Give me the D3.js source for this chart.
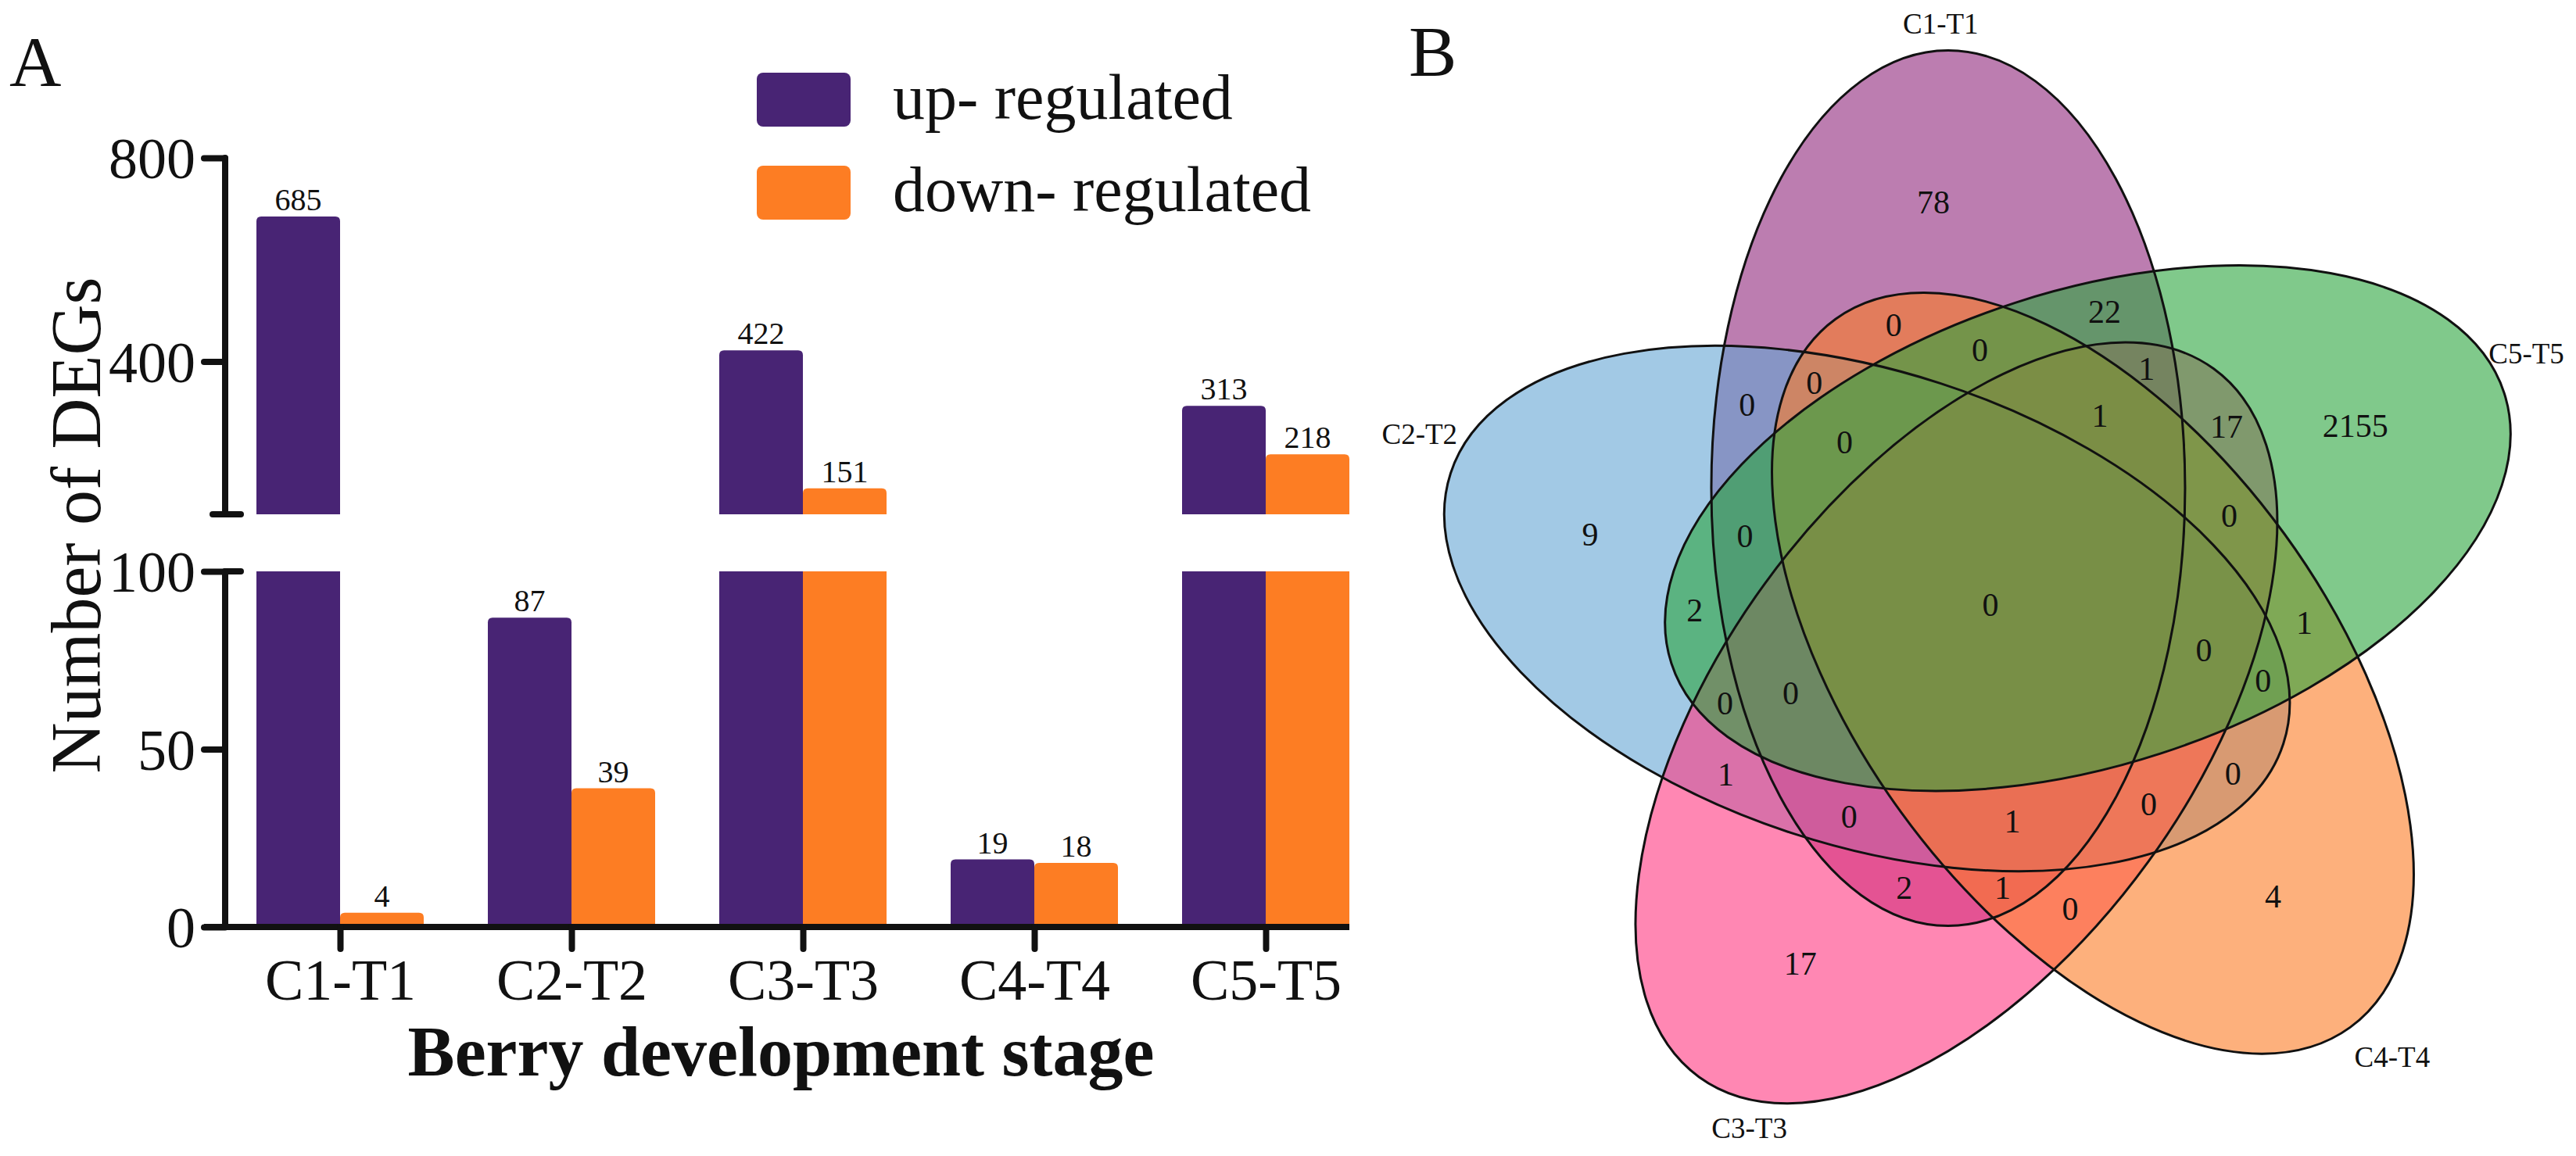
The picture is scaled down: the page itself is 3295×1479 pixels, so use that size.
<!DOCTYPE html>
<html>
<head>
<meta charset="utf-8">
<script src="https://cdn.jsdelivr.net/npm/d3@7"></script>
<style>
  body { margin: 0; background: #fff; }
  text { font-family: "Liberation Serif", "Times New Roman", serif; fill: #111; }
</style>
</head>
<body>
<svg id="svg" width="3295" height="1479"></svg>
<script>
// ---- data: panel A ----
var categories = ["C1-T1", "C2-T2", "C3-T3", "C4-T4", "C5-T5"];
var upRegulated = [685, 87, 422, 19, 313];
var downRegulated = [4, 39, 151, 18, 218];
var seriesNames = ["up- regulated", "down- regulated"];
var lowerTicks = [0, 50, 100];
var upperTicks = [400, 800];

// ---- data: panel B (region = sets it belongs to) ----
var vennSets = ["C1-T1", "C2-T2", "C3-T3", "C4-T4", "C5-T5"];
var vennRegions = ["1", "2", "3", "4", "5",
  "12", "13", "14", "15", "23", "24", "25", "34", "35", "45",
  "123", "124", "125", "134", "135", "145", "234", "235", "245", "345",
  "1234", "1235", "1245", "1345", "2345", "12345"];
var vennCounts = [78, 9, 17, 4, 2155,
  0, 2, 0, 22, 1, 0, 2, 0, 17, 1,
  0, 0, 0, 1, 1, 0, 0, 0, 0, 0,
  1, 0, 0, 1, 0, 0];

var svg = d3.select("svg");
var barColors = ["#482474", "#fd7d23"];

/*
 PANEL A - bar chart with broken y axis
*/
var x = d3.scalePoint().domain(categories).range([435, 1619]);
var yLow = d3.scaleLinear().domain([0, 100]).range([1186, 731]);
var yHigh = d3.scaleLinear().domain([100, 800]).range([658, 202]);
var barW = 107;

// rect with rounded top corners
function barPath(x0, w, yb, yt, r) {
    r = Math.min(r, (yb - yt) / 2);
    return "M" + x0 + "," + yb + "V" + (yt + r) + "Q" + x0 + "," + yt + " " + (x0 + r) + "," + yt +
        "H" + (x0 + w - r) + "Q" + (x0 + w) + "," + yt + " " + (x0 + w) + "," + (yt + r) + "V" + yb + "Z";
}

var bars = svg.append("g").attr("id", "bars");
[upRegulated, downRegulated].forEach(function (series, s) {
    series.forEach(function (v, i) {
        var x0 = x(categories[i]) - barW + s * barW;
        var top;
        if (v > 100) {
            bars.append("rect").attr("x", x0).attr("width", barW)
                .attr("y", yLow(100)).attr("height", yLow(0) - yLow(100))
                .attr("fill", barColors[s]);
            bars.append("path").attr("d", barPath(x0, barW, yHigh(100), yHigh(v), 6))
                .attr("fill", barColors[s]);
            top = yHigh(v);
        } else {
            bars.append("path").attr("d", barPath(x0, barW, yLow(0), yLow(v), 6))
                .attr("fill", barColors[s]);
            top = yLow(v);
        }
        bars.append("text").attr("x", x0 + barW / 2).attr("y", top - 8)
            .attr("text-anchor", "middle").attr("font-size", 40).text(v);
    });
});

// axes
var axisStyle = function (g) {
    g.selectAll("line").attr("stroke", "#111").attr("stroke-width", 8).attr("stroke-linecap", "round");
    g.selectAll("text").attr("font-size", 74).attr("font-family", "Liberation Serif").attr("fill", "#111");
    g.select(".domain").remove();
};

var gLow = svg.append("g").attr("transform", "translate(288,0)")
    .call(d3.axisLeft(yLow).tickValues(lowerTicks).tickSize(27))
    .call(axisStyle);
gLow.selectAll("text").attr("x", -38).attr("dy", "0.35em");

var gHigh = svg.append("g").attr("transform", "translate(288,0)")
    .call(d3.axisLeft(yHigh).tickValues(upperTicks).tickSize(27))
    .call(axisStyle);
gHigh.selectAll("text").attr("x", -38).attr("dy", "0.35em");

var axisLines = svg.append("g").attr("stroke", "#111").attr("stroke-width", 8)
    .attr("fill", "none").attr("stroke-linecap", "round");
axisLines.append("path").attr("d", "M288," + yHigh(800) + "V" + yHigh(100));
axisLines.append("path").attr("d", "M272," + yHigh(100) + "H308");
axisLines.append("path").attr("d", "M288," + yLow(100) + "H308");
axisLines.append("path").attr("d", "M288," + yLow(100) + "V" + yLow(0));
axisLines.append("path").attr("d", "M261," + yLow(0) + "H1726").attr("stroke-linecap", "butt");

var gx = svg.append("g").attr("transform", "translate(0," + yLow(0) + ")")
    .call(d3.axisBottom(x).tickSize(28))
    .call(axisStyle);
gx.selectAll("text").attr("y", 93).attr("dy", null);

// axis titles
svg.append("text").attr("transform", "translate(128,672) rotate(-90)")
    .attr("text-anchor", "middle").attr("font-size", 90).text("Number of DEGs");
svg.append("text").attr("x", 999).attr("y", 1376).attr("text-anchor", "middle")
    .attr("font-size", 90).attr("font-weight", "bold").text("Berry development stage");

// legend
var legend = svg.append("g");
seriesNames.forEach(function (name, s) {
    legend.append("rect").attr("x", 968).attr("y", 93 + s * 119).attr("width", 120).attr("height", 69)
        .attr("rx", 8).attr("fill", barColors[s]);
    legend.append("text").attr("x", 1142).attr("y", 152 + s * 118).attr("font-size", 82).text(name);
});

svg.append("text").attr("x", 12).attr("y", 110).attr("font-size", 92).text("A");
svg.append("text").attr("x", 1802).attr("y", 97).attr("font-size", 92).text("B");

/*
 PANEL B - five set Venn diagram
*/
var vennCenter = [2546, 773];
var vennDist = 158, vennA = 560, vennB = 303;
var vennColors = ["#8f267b", "#64a5d4", "#ff3780", "#fc7b25", "#2ba53e"];
var vennAlpha = 0.6;
var vennLabelPos = [[-94.9, 746], [-163.4, 762], [114.7, 738], [48.4, 774], [-25.1, 757]]; // angle, distance

var rad = Math.PI / 180;
var ellipses = vennSets.map(function (name, k) {
    var ca = (-110 - 72 * k) * rad;
    var axis = -90 - 72 * k;
    return {
        cx: vennCenter[0] + vennDist * Math.cos(ca),
        cy: vennCenter[1] + vennDist * Math.sin(ca),
        angle: axis, c: Math.cos(axis * rad), s: Math.sin(axis * rad)
    };
});

function inside(e, px, py) {
    var dx = px - e.cx, dy = py - e.cy;
    var u = dx * e.c + dy * e.s, v = -dx * e.s + dy * e.c;
    return (u * u) / (vennA * vennA) + (v * v) / (vennB * vennB) <= 1;
}

var venn = svg.append("g").attr("id", "venn");
venn.selectAll("ellipse.fill").data(ellipses).enter().append("ellipse")
    .attr("class", "fill")
    .attr("transform", function (e) { return "translate(" + e.cx + "," + e.cy + ") rotate(" + e.angle + ")"; })
    .attr("rx", vennA).attr("ry", vennB)
    .attr("fill", function (e, k) { return vennColors[k]; })
    .attr("fill-opacity", vennAlpha);
venn.selectAll("ellipse.edge").data(ellipses).enter().append("ellipse")
    .attr("class", "edge")
    .attr("transform", function (e) { return "translate(" + e.cx + "," + e.cy + ") rotate(" + e.angle + ")"; })
    .attr("rx", vennA).attr("ry", vennB)
    .attr("fill", "none").attr("stroke", "#111").attr("stroke-width", 3);

// place each count at the centroid of its region (grid sampling)
var sums = {};
for (var gy = 0; gy < 1479; gy += 4) {
    for (var gx2 = 1780; gx2 < 3295; gx2 += 4) {
        var key = "";
        ellipses.forEach(function (e, k) { if (inside(e, gx2, gy)) key += (k + 1); });
        if (!key) continue;
        if (!sums[key]) sums[key] = [0, 0, 0];
        sums[key][0] += gx2; sums[key][1] += gy; sums[key][2] += 1;
    }
}
vennRegions.forEach(function (r, i) {
    var s = sums[r];
    if (!s) return;
    venn.append("text").attr("x", s[0] / s[2]).attr("y", s[1] / s[2]).attr("dy", "0.35em")
        .attr("text-anchor", "middle").attr("font-size", 42).text(vennCounts[i]);
});

vennSets.forEach(function (name, k) {
    var p = vennLabelPos[k];
    venn.append("text")
        .attr("x", vennCenter[0] + p[1] * Math.cos(p[0] * rad))
        .attr("y", vennCenter[1] + p[1] * Math.sin(p[0] * rad))
        .attr("dy", "0.35em").attr("text-anchor", "middle").attr("font-size", 37).text(name);
});
</script>
</body>
</html>
